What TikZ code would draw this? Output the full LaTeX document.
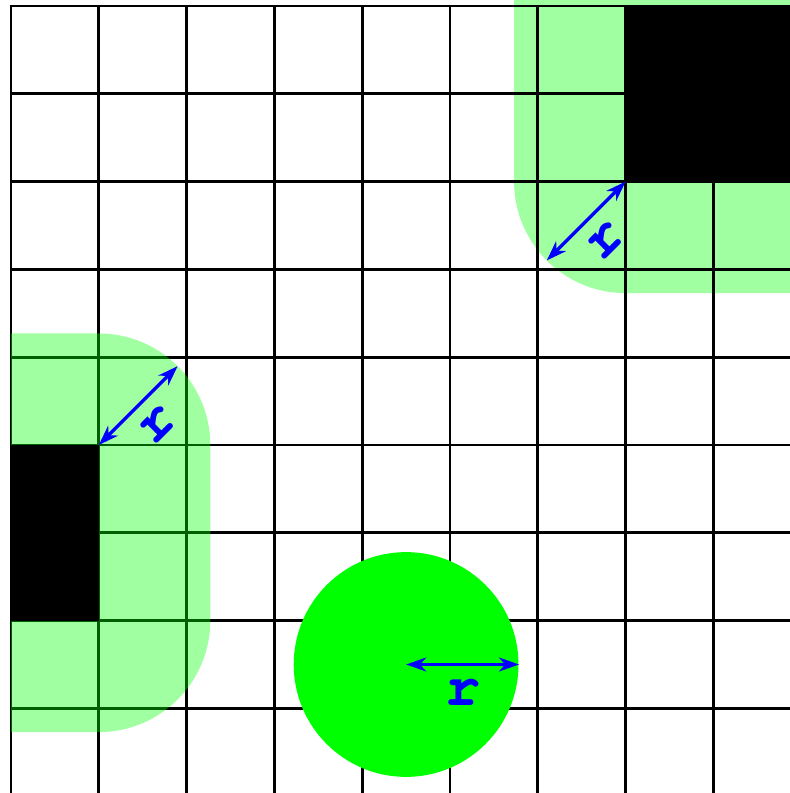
\documentclass[tikz,border=0pt]{standalone}
\usepackage{fontspec}
\usetikzlibrary{arrows.meta,calc}
\definecolor{padgreen}{RGB}{160,255,160}
\definecolor{diskgreen}{RGB}{0,255,0}
\definecolor{arrowblue}{RGB}{0,0,255}
\newcommand{\courierbold}{\fontencoding{OT1}\fontfamily{pcr}\fontseries{b}\fontshape{n}\fontsize{19}{19}\selectfont}
\begin{document}
\begin{tikzpicture}[
  gridline/.style={line width=0.9pt, black, line cap=rect},
  radarrow/.style={arrowblue, line width=1.1pt,
    {Stealth[length=6.5pt,width=4.5pt,inset=2pt]}-{Stealth[length=6.5pt,width=4.5pt,inset=2pt]}},
  rlabel/.style={text=arrowblue, font=\courierbold, inner sep=4pt},
  obstacle/.style={fill=black},
]
\useasboundingbox (-0.1253,0.0683) rectangle (8.861,-8.9636);
% padded region behind the grid (top right)
\begin{scope}
  \clip (0,0.07) rectangle (8.87,-8.97);
  \fill[padgreen, rounded corners=1.27cm] (5.73,1.27) rectangle (10.27,-3.27);
\end{scope}
% grid
\foreach \i in {0,...,8} {
  \draw[gridline] (\i,0) -- (\i,-8.97);
  \draw[gridline] (0,-\i) -- (8.87,-\i);
}
% translucent padded region (left)
\begin{scope}
  \clip (0,0) rectangle (8.87,-8.97);
  \fill[diskgreen, fill opacity=0.373, rounded corners=1.27cm] (-1.27,-3.73) rectangle (2.27,-8.27);
\end{scope}
% obstacles
\begin{scope}
  \clip (0,0.07) rectangle (8.87,-8.97);
  \fill[obstacle] (7,0) rectangle (9,-2);
\end{scope}
\fill[obstacle] (0,-5) rectangle (1,-7);
% robot disc
\node[circle, fill=diskgreen, draw=none, minimum size=2.56cm, inner sep=0pt] (disc) at (4.5,-7.5) {};
% radius arrows
\coordinate (cornerA) at (7,-2);
\coordinate (endA) at ($(cornerA)+(225:1.27)$);
\coordinate (cornerB) at (1,-5);
\coordinate (endB) at ($(cornerB)+(45:1.27)$);
\draw[radarrow] (endA) -- (cornerA) node[midway, sloped, below, rlabel] {r};
\draw[radarrow] (cornerB) -- (endB) node[midway, sloped, below, rlabel] {r};
\draw[radarrow] (disc.center) -- (disc.east) node[midway, below, rlabel] {r};
\end{tikzpicture}
\end{document}
